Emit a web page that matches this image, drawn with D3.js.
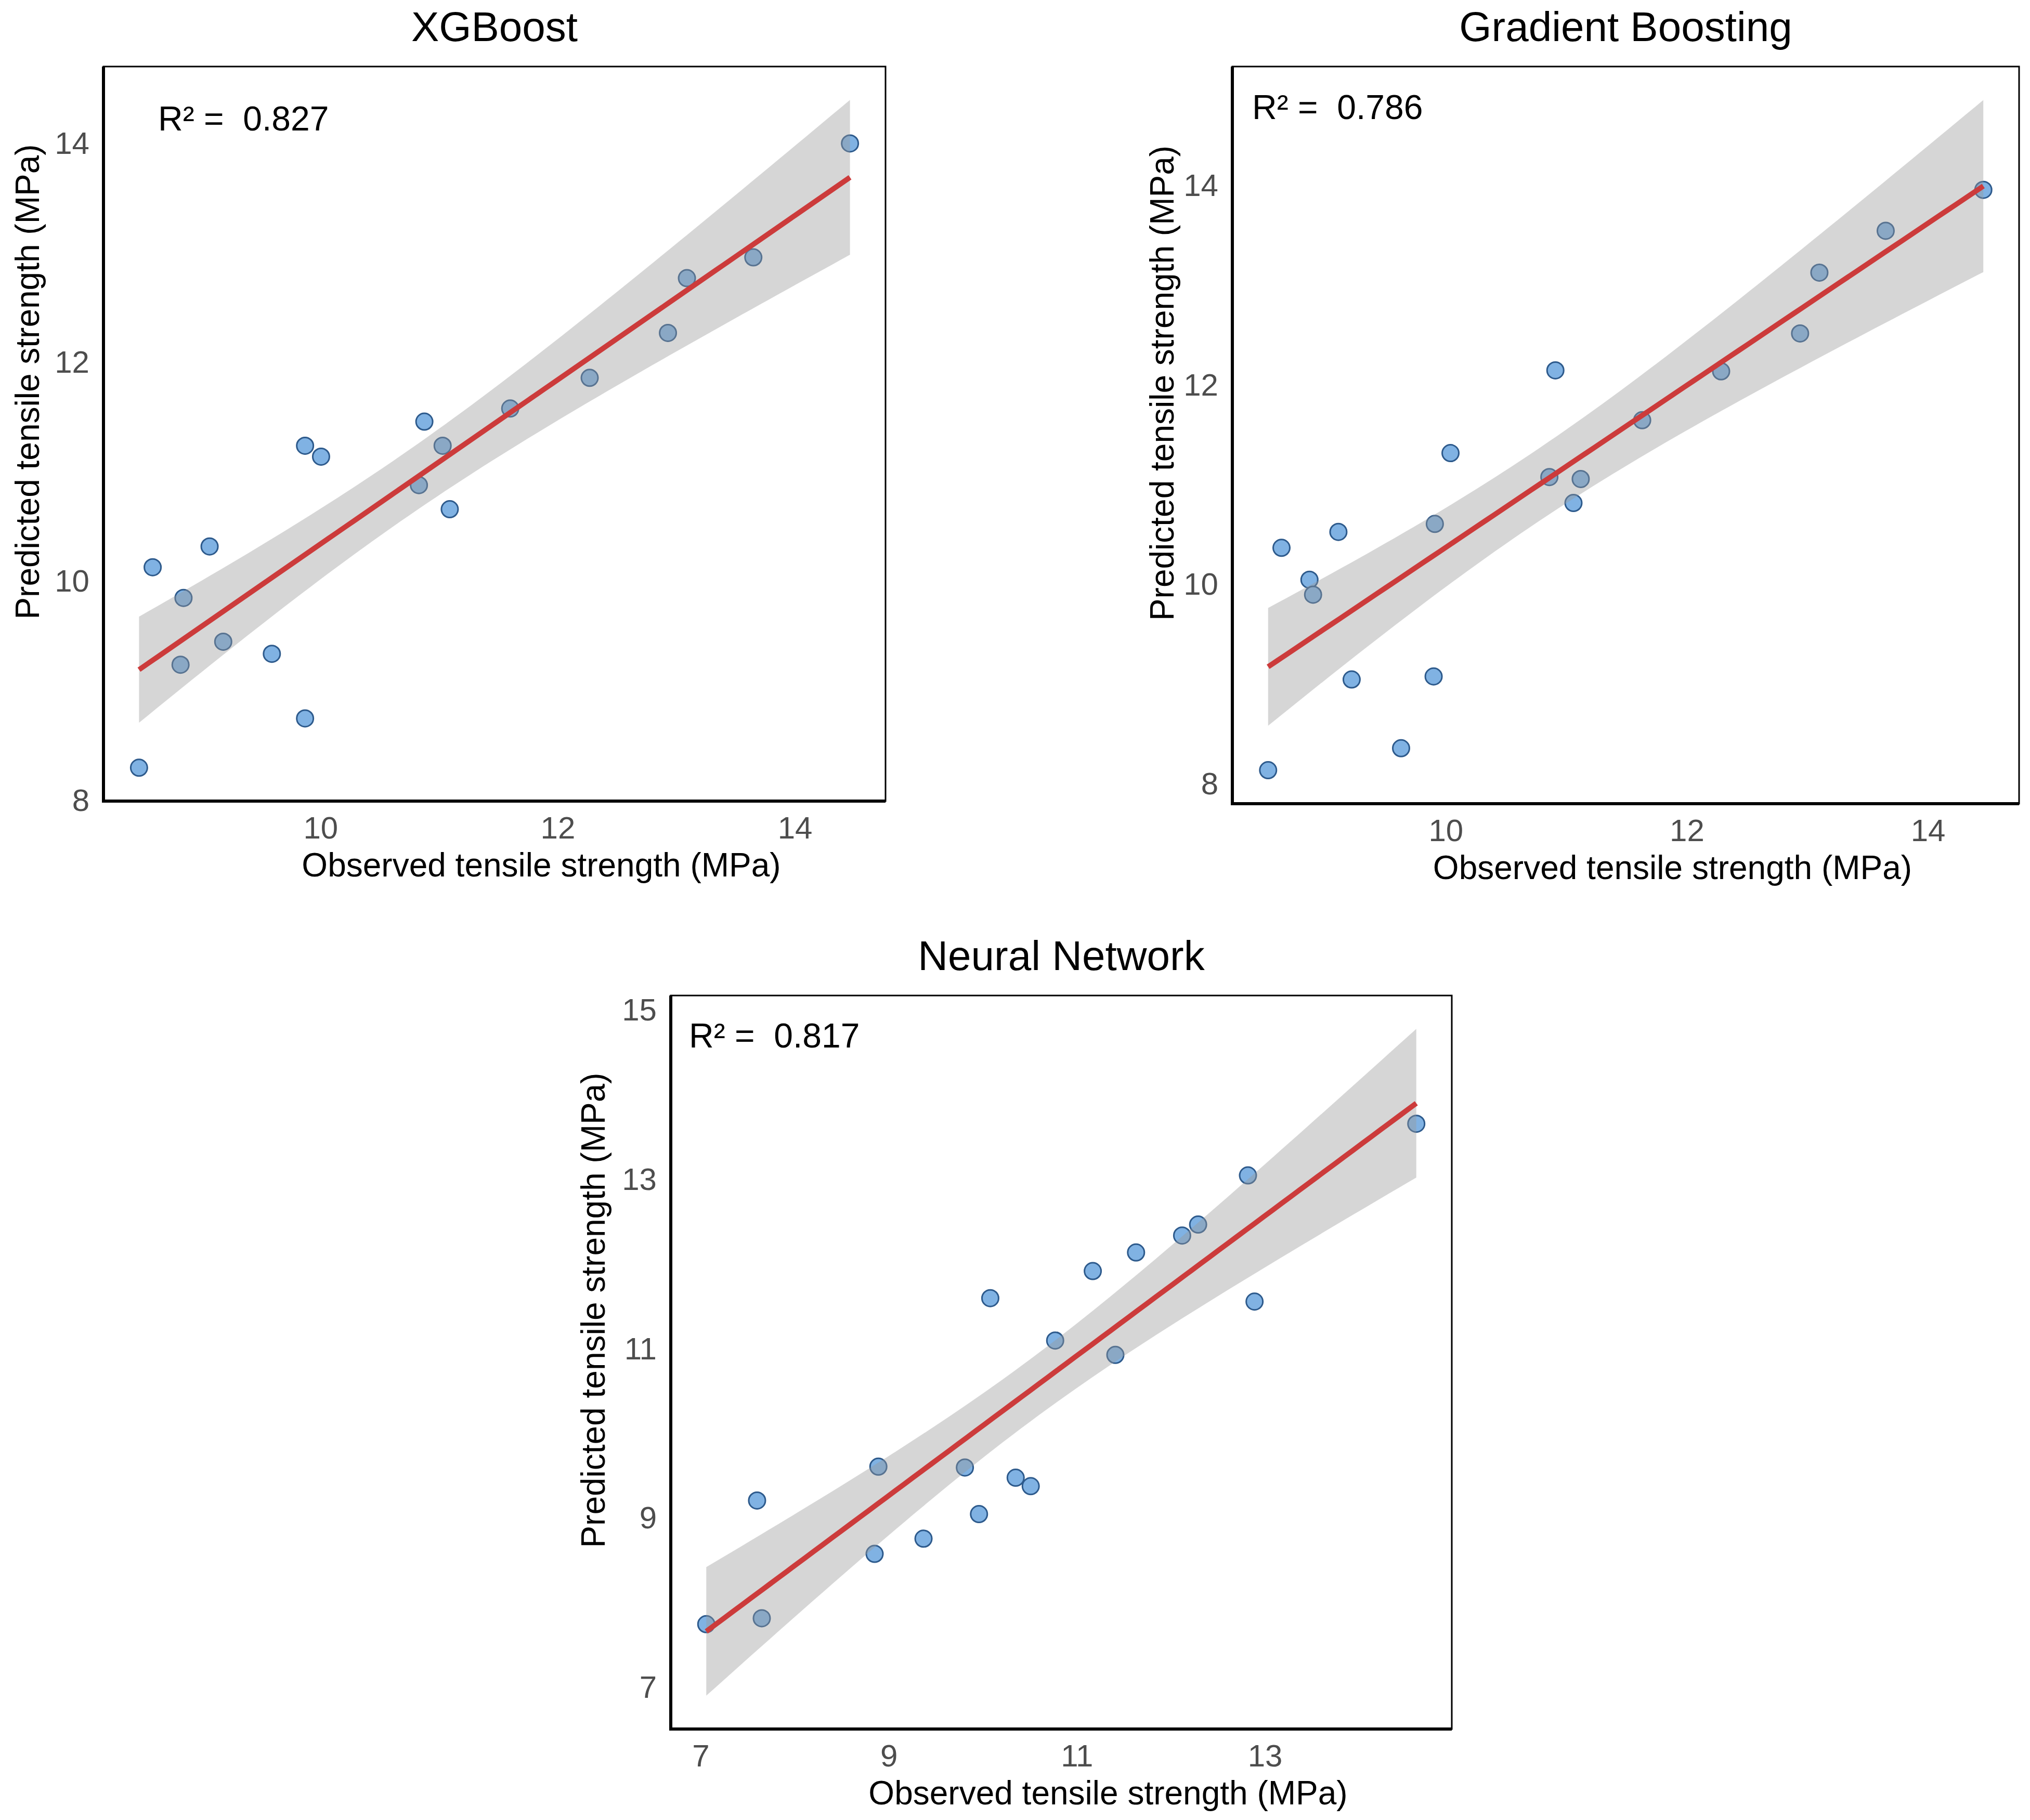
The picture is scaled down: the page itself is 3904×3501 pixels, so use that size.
<!DOCTYPE html>
<html lang="en">
<head>
<meta charset="UTF-8">
<script src="https://d3js.org/d3.v7.min.js"></script>
<title>Observed vs predicted tensile strength</title>
<style>
    body {
        margin: 0;
        background: #fff;
    }
    text {
        font-family: "Liberation Sans", Arial, Helvetica, sans-serif;
    }
</style>
</head>
<body>
<div id="chart"></div>
<script>

    // values (MPa), one point per test sample
    var xgbObserved  = [8.47, 8.585, 8.845, 8.82, 9.065, 9.18, 9.59, 9.87, 10.005, 9.87,
                        10.83, 10.876, 11.03, 11.09, 11.60, 12.27, 12.93, 13.09, 13.65, 14.465];
    var xgbPredicted = [8.30, 10.13, 9.85, 9.24, 10.32, 9.45, 9.34, 11.24, 11.14, 8.75,
                        10.88, 11.46, 11.24, 10.66, 11.58, 11.86, 12.27, 12.77, 12.96, 14.0];

    var gbObserved   = [8.527, 8.638, 8.87, 8.90, 9.11, 9.22, 9.63, 9.91, 9.90, 10.04,
                        10.86, 10.91, 11.12, 11.06, 11.63, 12.285, 12.94, 13.10, 13.65, 14.46];
    var gbPredicted  = [8.14, 10.37, 10.05, 9.90, 10.53, 9.05, 8.36, 10.61, 9.08, 11.32,
                        11.08, 12.15, 11.06, 10.82, 11.65, 12.14, 12.52, 13.13, 13.55, 13.96];

    var nnObserved   = [7.06, 7.65, 7.60, 8.85, 8.89, 9.37, 9.81, 9.96, 10.08, 10.35,
                        10.51, 10.77, 11.17, 11.41, 11.63, 12.12, 12.29, 12.82, 12.89, 14.61];
    var nnPredicted  = [7.75, 7.82, 9.21, 8.58, 9.61, 8.76, 9.60, 9.05, 11.60, 9.48,
                        9.38, 11.10, 11.92, 10.93, 12.14, 12.34, 12.47, 13.05, 11.56, 13.66];

    var modelNames = ["XGBoost", "Gradient Boosting", "Neural Network"];
    var r2Labels   = ["0.827", "0.786", "0.817"];

    var xTicksTop = [10, 12, 14];
    var yTicksTop = [8, 10, 12, 14];
    var xTicksNN  = [7, 9, 11, 13];
    var yTicksNN  = [7, 9, 11, 13, 15];

    var xLabel = "Observed tensile strength (MPa)";
    var yLabel = "Predicted tensile strength (MPa)";

    // t quantile (0.975, df = 18) for the 95% band of lm with n = 20
    var T975 = 2.100922;

    // panel boxes in pixels
    var panels = [
        {title: modelNames[0], r2: r2Labels[0], obs: xgbObserved, pred: xgbPredicted,
         xTicks: xTicksTop, yTicks: yTicksTop,
         left: 199, top: 128, width: 1504, height: 1413, r2dx: 105, r2dy: 99, yTitleOff: 147},
        {title: modelNames[1], r2: r2Labels[1], obs: gbObserved, pred: gbPredicted,
         xTicks: xTicksTop, yTicks: yTicksTop,
         left: 2370, top: 128, width: 1513, height: 1418, r2dx: 38, r2dy: 77, yTitleOff: 136},
        {title: modelNames[2], r2: r2Labels[2], obs: nnObserved, pred: nnPredicted,
         xTicks: xTicksNN, yTicks: yTicksNN,
         left: 1290, top: 1915, width: 1502, height: 1411, r2dx: 35, r2dy: 76, yTitleOff: 150}
    ];

    var svg = d3.select("#chart")
        .append("svg")
        .attr("width", 3904)
        .attr("height", 3501)
        .style("display", "block");

    svg.append("rect")
        .attr("width", 3904)
        .attr("height", 3501)
        .attr("fill", "#fff");

    // ordinary least squares + 95% confidence band, like geom_smooth(method = "lm")
    function fitLm(xs, ys) {
        var n = xs.length,
            mx = d3.mean(xs),
            my = d3.mean(ys),
            sxx = d3.sum(xs, function(x) { return (x - mx) * (x - mx); }),
            sxy = d3.sum(xs, function(x, i) { return (x - mx) * (ys[i] - my); }),
            syy = d3.sum(ys, function(y) { return (y - my) * (y - my); });
        var b = sxy / sxx,
            a = my - b * mx,
            s = Math.sqrt((syy - b * sxy) / (n - 2));
        var ext = d3.extent(xs);
        var grid = d3.range(80).map(function(i) {
            var x = ext[0] + (ext[1] - ext[0]) * i / 79;
            var fit = a + b * x;
            var se = s * Math.sqrt(1 / n + (x - mx) * (x - mx) / sxx);
            return {x: x, fit: fit, lo: fit - T975 * se, hi: fit + T975 * se};
        });
        return grid;
    }

    function expand(ext) {
        var pad = (ext[1] - ext[0]) * 0.05;
        return [ext[0] - pad, ext[1] + pad];
    }

    panels.forEach(function(p) {
        var band = fitLm(p.obs, p.pred);
        var points = p.obs.map(function(d, i) { return {x: d, y: p.pred[i]}; });

        var x = d3.scaleLinear()
            .domain(expand(d3.extent(p.obs)))
            .range([0, p.width]);

        var yAll = p.pred.concat(band.map(function(d) { return d.lo; }), band.map(function(d) { return d.hi; }));
        var y = d3.scaleLinear()
            .domain(expand(d3.extent(yAll)))
            .range([p.height, 0]);

        var g = svg.append("g")
            .attr("transform", "translate(" + p.left + "," + p.top + ")");

        // points first, the band is drawn over them
        g.selectAll("circle")
            .data(points)
            .enter()
            .append("circle")
            .attr("cx", function(d) { return x(d.x); })
            .attr("cy", function(d) { return y(d.y); })
            .attr("r", 16)
            .attr("fill", "#80b2e3")
            .attr("stroke", "#2d5a8c")
            .attr("stroke-width", 3);

        g.append("path")
            .datum(band)
            .attr("fill", "#999999")
            .attr("fill-opacity", 0.4)
            .attr("d", d3.area()
                .x(function(d) { return x(d.x); })
                .y0(function(d) { return y(d.lo); })
                .y1(function(d) { return y(d.hi); })
            );

        g.append("path")
            .datum(band)
            .attr("fill", "none")
            .attr("stroke", "#cc3b3b")
            .attr("stroke-width", 10)
            .attr("d", d3.line()
                .x(function(d) { return x(d.x); })
                .y(function(d) { return y(d.fit); })
            );

        // panel border, then heavier axis lines
        g.append("rect")
            .attr("width", p.width)
            .attr("height", p.height)
            .attr("fill", "none")
            .attr("stroke", "#000")
            .attr("stroke-width", 3);

        g.append("line")
            .attr("x1", 0).attr("x2", 0)
            .attr("y1", 0).attr("y2", p.height + 3)
            .attr("stroke", "#000")
            .attr("stroke-width", 6);
        g.append("line")
            .attr("x1", -3).attr("x2", p.width)
            .attr("y1", p.height).attr("y2", p.height)
            .attr("stroke", "#000")
            .attr("stroke-width", 6);

        // axes (tick marks are blank in the original)
        var fmt = d3.format("d");
        var xAxis = g.append("g")
            .attr("transform", "translate(0," + p.height + ")")
            .call(d3.axisBottom(x).tickValues(p.xTicks).tickFormat(fmt).tickSize(0).tickPadding(29));
        var yAxis = g.append("g")
            .call(d3.axisLeft(y).tickValues(p.yTicks).tickFormat(fmt).tickSize(0).tickPadding(27));

        [xAxis, yAxis].forEach(function(ax) {
            ax.select(".domain").remove();
            ax.selectAll("text")
                .attr("fill", "#4d4d4d")
                .style("font-size", "60px")
                .style("font-family", '"Liberation Sans", Arial, Helvetica, sans-serif');
        });

        // titles
        g.append("text")
            .attr("x", p.width / 2)
            .attr("y", -49)
            .attr("text-anchor", "middle")
            .style("font-size", "80px")
            .text(p.title);

        g.append("text")
            .attr("x", p.width / 2 + 90)
            .attr("y", p.height + 145)
            .attr("text-anchor", "middle")
            .style("font-size", "64px")
            .text(xLabel);

        g.append("text")
            .attr("transform", "translate(" + (-p.yTitleOff + 23) + "," + (p.height / 2 - 100) + ") rotate(-90)")
            .attr("text-anchor", "middle")
            .style("font-size", "64px")
            .text(yLabel);

        g.append("text")
            .attr("x", p.r2dx)
            .attr("y", p.r2dy + 24)
            .style("font-size", "66px")
            .style("white-space", "pre")
            .text("R\u00b2 =  " + p.r2);
    });

</script>
</body>
</html>
